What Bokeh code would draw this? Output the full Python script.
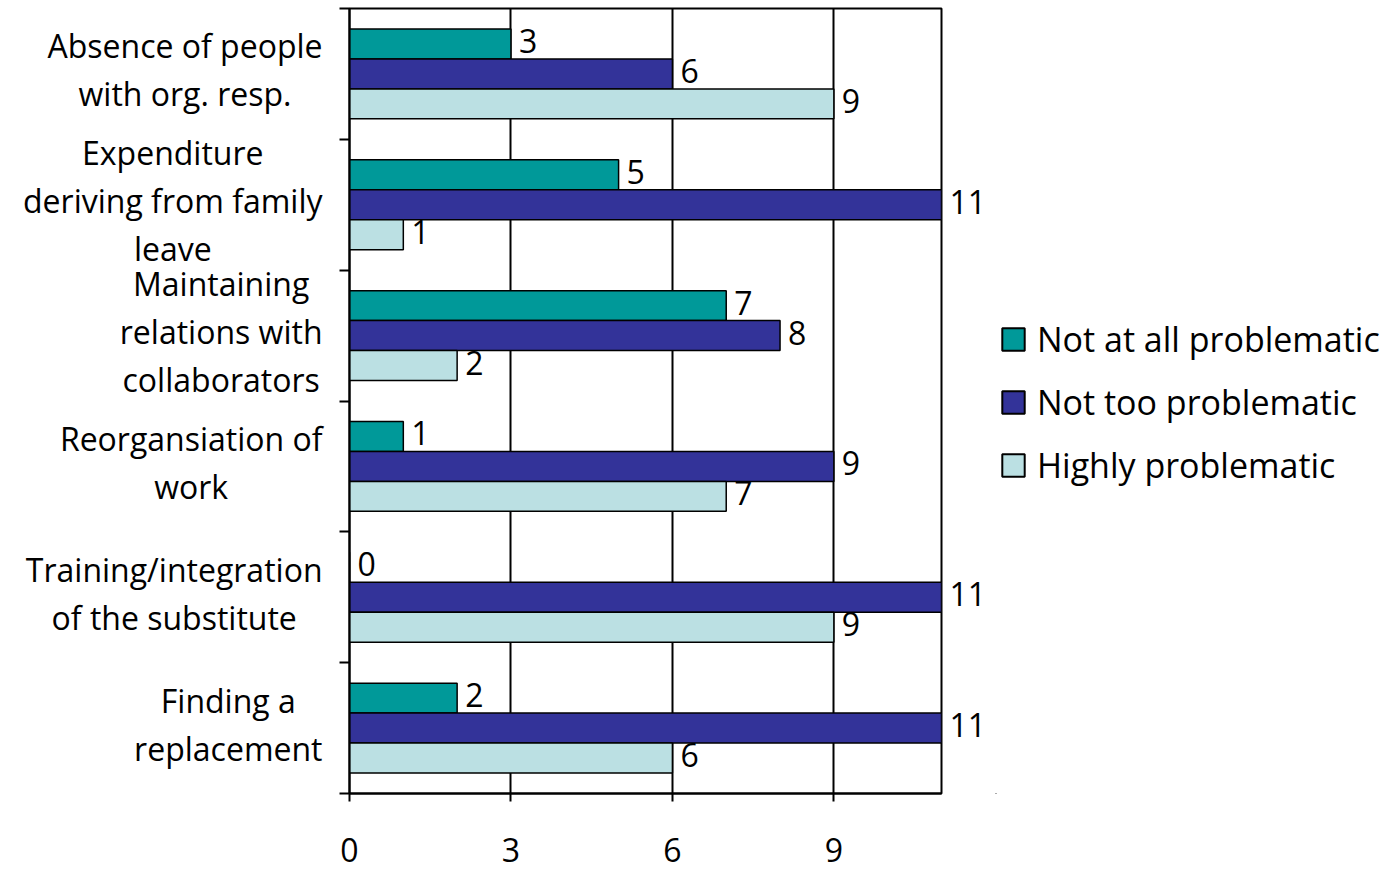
from bokeh.plotting import figure
from bokeh.layouts import row
from bokeh.models import ColumnDataSource, FixedTicker, Legend, LegendItem
from bokeh.core.properties import value
from bokeh.embed import file_html
from bokeh.resources import INLINE

# --- data -------------------------------------------------------------
categories = [
    "Absence of people\nwith org. resp.",
    "Expenditure\nderiving from family\nleave",
    "Maintaining\nrelations with\ncollaborators",
    "Reorgansiation of\nwork",
    "Training/integration\nof the substitute",
    "Finding a\nreplacement",
]
not_at_all = [3, 5, 7, 1, 0, 2]
not_too = [6, 11, 8, 9, 11, 11]
highly = [9, 1, 2, 7, 9, 6]
series_names = ["Not at all problematic", "Not too problematic", "Highly problematic"]
series_values = [not_at_all, not_too, highly]
colors = ["#009999", "#333399", "#BBE0E3"]
x_ticks = [0, 3, 6, 9]

FONT = "Open Sans"
FSIZE = "32px"

n = len(categories)
centers = [n - 0.5 - i for i in range(n)]
bar_h = 0.229
offsets = [bar_h, 0.0, -bar_h]

# --- main chart ---------------------------------------------------------
p = figure(
    width=995, height=869,
    x_range=(0, 11), y_range=(0, n),
    output_backend="svg", toolbar_location=None,
    min_border_left=349, min_border_right=54,
    min_border_top=8, min_border_bottom=76,
)
p.background_fill_color = "white"
p.border_fill_color = "white"
p.outline_line_color = "black"
p.outline_line_width = 2

# vertical grid only
p.xgrid.ticker = FixedTicker(ticks=x_ticks)
p.xgrid.grid_line_color = "black"
p.xgrid.grid_line_width = 2
p.ygrid.visible = False

# x axis
p.xaxis.ticker = FixedTicker(ticks=x_ticks)
p.xaxis.axis_line_color = "black"
p.xaxis.axis_line_width = 2
p.xaxis.major_tick_out = 8
p.xaxis.major_tick_in = 0
p.xaxis.major_tick_line_width = 2
p.xaxis.minor_tick_line_color = None
p.xaxis.major_label_text_font = FONT
p.xaxis.major_label_text_font_size = FSIZE
p.xaxis.major_label_text_color = "black"
p.xaxis.major_label_standoff = 36

# y axis: ticks at band boundaries, no labels
y_ticks = list(range(n + 1))
p.yaxis.ticker = FixedTicker(ticks=y_ticks)
p.yaxis.major_label_overrides = {t: "" for t in y_ticks}
p.yaxis.axis_line_color = "black"
p.yaxis.axis_line_width = 2
p.yaxis.major_tick_out = 10
p.yaxis.major_tick_in = 0
p.yaxis.major_tick_line_width = 2
p.yaxis.minor_tick_line_color = None

for j, (vals, col) in enumerate(zip(series_values, colors)):
    src = ColumnDataSource(dict(
        y=[c + offsets[j] for c in centers],
        v=vals,
        lbl=[str(v) for v in vals],
    ))
    p.hbar(y="y", left=0, right="v", height=bar_h, source=src,
           fill_color=col, line_color="black", line_width=1.5)
    p.text(x="v", y="y", text="lbl", source=src, x_offset=8, y_offset=-3,
           text_align="left", text_baseline="middle",
           text_font=value(FONT), text_font_size=FSIZE, text_color="black",
           level="overlay")

# category labels left of the frame
cat_src = ColumnDataSource(dict(x=[0] * n, y=centers, t=categories))
p.text(x="x", y="y", text="t", source=cat_src, x_offset=-27, y_offset=-4,
       anchor="center_right", text_align="center", text_baseline="middle",
       text_line_height=1.12,
       text_font=value(FONT), text_font_size=FSIZE, text_color="black",
       level="overlay")

# --- legend panel -------------------------------------------------------
lg = figure(
    width=396, height=869,
    x_range=(0, 1), y_range=(0, 1),
    x_axis_location=None, y_axis_location=None,
    output_backend="svg", toolbar_location=None,
    min_border=0,
)
lg.outline_line_color = None
lg.grid.grid_line_color = None
lg.background_fill_color = "white"
lg.border_fill_color = "white"
items = []
for name, col in zip(series_names, colors):
    # swatch-only renderer, kept outside the visible range
    r = lg.hbar(y=[-5], left=[0], right=[0], height=0.1,
                fill_color=col, line_color="black", line_width=2)
    items.append(LegendItem(label=name, renderers=[r]))

legend = Legend(items=items, location=(4, 305))
legend.border_line_color = None
legend.background_fill_alpha = 0
legend.padding = 0
legend.margin = 0
legend.glyph_width = 28
legend.glyph_height = 28
legend.label_standoff = 10
legend.spacing = 17
legend.label_text_font = FONT
legend.label_text_font_size = "34px"
legend.label_text_color = "black"
lg.add_layout(legend)

layout = row(p, lg)
open("out.html", "w").write(file_html(layout, INLINE))
